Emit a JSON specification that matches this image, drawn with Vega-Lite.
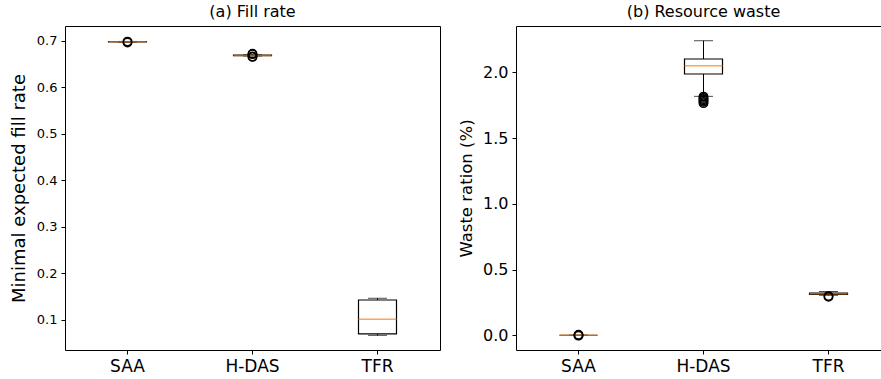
{
  "$schema": "https://vega.github.io/schema/vega-lite/v6.json",
  "padding": {"left": 9, "top": 3, "right": 0, "bottom": 5},
  "background": "white",
  "bounds": "flush",
  "spacing": 76,
  "datasets": {
    "boxes": [
      {"panel": "a", "cat": "SAA", "lo": 0.6972, "q1": 0.6977, "med": 0.698, "q3": 0.6983, "hi": 0.6988},
      {"panel": "a", "cat": "H-DAS", "lo": 0.6675, "q1": 0.6683, "med": 0.6688, "q3": 0.6693, "hi": 0.6702},
      {"panel": "a", "cat": "TFR", "lo": 0.067, "q1": 0.070, "med": 0.1015, "q3": 0.143, "hi": 0.1467},
      {"panel": "b", "cat": "SAA", "lo": 0.0, "q1": 0.0, "med": 0.0, "q3": 0.0, "hi": 0.0},
      {"panel": "b", "cat": "H-DAS", "lo": 1.817, "q1": 1.987, "med": 2.05, "q3": 2.101, "hi": 2.24},
      {"panel": "b", "cat": "TFR", "lo": 0.304, "q1": 0.311, "med": 0.316, "q3": 0.321, "hi": 0.333}
    ],
    "outliers": [
      {"panel": "a", "cat": "SAA", "value": 0.6985},
      {"panel": "a", "cat": "SAA", "value": 0.6965},
      {"panel": "a", "cat": "H-DAS", "value": 0.6725},
      {"panel": "a", "cat": "H-DAS", "value": 0.6715},
      {"panel": "a", "cat": "H-DAS", "value": 0.6665},
      {"panel": "a", "cat": "H-DAS", "value": 0.6655},
      {"panel": "b", "cat": "SAA", "value": 0.004},
      {"panel": "b", "cat": "SAA", "value": 0.0},
      {"panel": "b", "cat": "SAA", "value": -0.003},
      {"panel": "b", "cat": "H-DAS", "value": 1.815},
      {"panel": "b", "cat": "H-DAS", "value": 1.805},
      {"panel": "b", "cat": "H-DAS", "value": 1.795},
      {"panel": "b", "cat": "H-DAS", "value": 1.785},
      {"panel": "b", "cat": "H-DAS", "value": 1.775},
      {"panel": "b", "cat": "H-DAS", "value": 1.765},
      {"panel": "b", "cat": "TFR", "value": 0.298},
      {"panel": "b", "cat": "TFR", "value": 0.292}
    ]
  },
  "config": {
    "font": "DejaVu Sans",
    "view": {"stroke": "black", "strokeWidth": 1},
    "axis": {
      "domain": false,
      "grid": false,
      "tickColor": "black",
      "tickSize": 4,
      "tickWidth": 1,
      "labelColor": "black",
      "labelFont": "DejaVu Sans",
      "titleFont": "DejaVu Sans",
      "titleColor": "black",
      "titleFontWeight": "normal",
      "labelPadding": 4
    },
    "title": {"font": "DejaVu Sans", "fontSize": 16, "fontWeight": "normal", "color": "black", "offset": 6}
  },
  "hconcat": [
    {
      "width": 375,
      "height": 324,
      "title": "(a) Fill rate",
      "data": {"name": "boxes"},
      "layer": [
        {
          "transform": [{"filter": "datum.panel === 'a'"}],
          "mark": {"type": "rule", "color": "black", "strokeWidth": 1},
          "encoding": {
            "x": {"field": "cat", "type": "nominal", "sort": ["SAA", "H-DAS", "TFR"], "scale": {"paddingInner": 0, "paddingOuter": 0},
                  "axis": {"title": null, "labelAngle": 0, "labelFontSize": 17}},
            "y": {"field": "lo", "type": "quantitative", "scale": {"domain": [0.0355, 0.732], "nice": false, "zero": false},
                  "axis": {"title": "Minimal expected fill rate", "values": [0.1, 0.2, 0.3, 0.4, 0.5, 0.6, 0.7], "format": ".1f", "labelFontSize": 13, "titleFontSize": 18, "titlePadding": 8}},
            "y2": {"field": "hi"}
          }
        },
        {
          "transform": [{"filter": "datum.panel === 'a'"}],
          "mark": {"type": "tick", "color": "black", "size": 19, "thickness": 1},
          "encoding": {
            "x": {"field": "cat", "type": "nominal", "sort": ["SAA", "H-DAS", "TFR"]},
            "y": {"field": "lo", "type": "quantitative"}
          }
        },
        {
          "transform": [{"filter": "datum.panel === 'a'"}],
          "mark": {"type": "tick", "color": "black", "size": 19, "thickness": 1},
          "encoding": {
            "x": {"field": "cat", "type": "nominal", "sort": ["SAA", "H-DAS", "TFR"]},
            "y": {"field": "hi", "type": "quantitative"}
          }
        },
        {
          "transform": [{"filter": "datum.panel === 'a'"}],
          "mark": {"type": "bar", "width": 38, "fill": "white", "stroke": "black", "strokeWidth": 1.2},
          "encoding": {
            "x": {"field": "cat", "type": "nominal", "sort": ["SAA", "H-DAS", "TFR"]},
            "y": {"field": "q1", "type": "quantitative"},
            "y2": {"field": "q3"}
          }
        },
        {
          "transform": [{"filter": "datum.panel === 'a'"}],
          "mark": {"type": "tick", "color": "#ff7f0e", "size": 38, "thickness": 1.5},
          "encoding": {
            "x": {"field": "cat", "type": "nominal", "sort": ["SAA", "H-DAS", "TFR"]},
            "y": {"field": "med", "type": "quantitative"}
          }
        },
        {
          "data": {"name": "outliers"},
          "transform": [{"filter": "datum.panel === 'a'"}],
          "mark": {"type": "point", "shape": "circle", "filled": false, "stroke": "black", "strokeWidth": 1.5, "size": 70, "opacity": 1},
          "encoding": {
            "x": {"field": "cat", "type": "nominal", "sort": ["SAA", "H-DAS", "TFR"]},
            "y": {"field": "value", "type": "quantitative"}
          }
        }
      ]
    },
    {
      "width": 375,
      "height": 324,
      "title": "(b) Resource waste",
      "data": {"name": "boxes"},
      "layer": [
        {
          "transform": [{"filter": "datum.panel === 'b'"}],
          "mark": {"type": "rule", "color": "black", "strokeWidth": 1},
          "encoding": {
            "x": {"field": "cat", "type": "nominal", "sort": ["SAA", "H-DAS", "TFR"], "scale": {"paddingInner": 0, "paddingOuter": 0},
                  "axis": {"title": null, "labelAngle": 0, "labelFontSize": 17}},
            "y": {"field": "lo", "type": "quantitative", "scale": {"domain": [-0.112, 2.352], "nice": false, "zero": false},
                  "axis": {"title": "Waste ration (%)", "values": [0, 0.5, 1, 1.5, 2], "format": ".1f", "labelFontSize": 16, "titleFontSize": 16.5, "titlePadding": 8}},
            "y2": {"field": "hi"}
          }
        },
        {
          "transform": [{"filter": "datum.panel === 'b'"}],
          "mark": {"type": "tick", "color": "black", "size": 19, "thickness": 1},
          "encoding": {
            "x": {"field": "cat", "type": "nominal", "sort": ["SAA", "H-DAS", "TFR"]},
            "y": {"field": "lo", "type": "quantitative"}
          }
        },
        {
          "transform": [{"filter": "datum.panel === 'b'"}],
          "mark": {"type": "tick", "color": "black", "size": 19, "thickness": 1},
          "encoding": {
            "x": {"field": "cat", "type": "nominal", "sort": ["SAA", "H-DAS", "TFR"]},
            "y": {"field": "hi", "type": "quantitative"}
          }
        },
        {
          "transform": [{"filter": "datum.panel === 'b'"}],
          "mark": {"type": "bar", "width": 38, "fill": "white", "stroke": "black", "strokeWidth": 1.2},
          "encoding": {
            "x": {"field": "cat", "type": "nominal", "sort": ["SAA", "H-DAS", "TFR"]},
            "y": {"field": "q1", "type": "quantitative"},
            "y2": {"field": "q3"}
          }
        },
        {
          "transform": [{"filter": "datum.panel === 'b'"}],
          "mark": {"type": "tick", "color": "#ff7f0e", "size": 38, "thickness": 1.5},
          "encoding": {
            "x": {"field": "cat", "type": "nominal", "sort": ["SAA", "H-DAS", "TFR"]},
            "y": {"field": "med", "type": "quantitative"}
          }
        },
        {
          "data": {"name": "outliers"},
          "transform": [{"filter": "datum.panel === 'b'"}],
          "mark": {"type": "point", "shape": "circle", "filled": false, "stroke": "black", "strokeWidth": 1.5, "size": 70, "opacity": 1},
          "encoding": {
            "x": {"field": "cat", "type": "nominal", "sort": ["SAA", "H-DAS", "TFR"]},
            "y": {"field": "value", "type": "quantitative"}
          }
        }
      ]
    }
  ]
}
